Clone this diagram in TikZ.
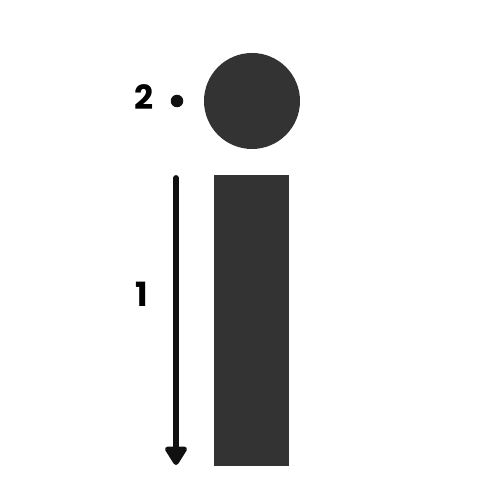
\documentclass[tikz,border=0pt]{standalone}
\usepackage{fontspec}
\setmainfont{Poppins}
\usepackage{tikz}
\usetikzlibrary{arrows.meta, positioning}
\definecolor{letterGray}{HTML}{333333}
\definecolor{arrowBlack}{HTML}{111111}

\begin{document}
\begin{tikzpicture}
        \useasboundingbox (0,0) rectangle (10,10);
        \fill[letterGray] (5.04,7.98) circle (0.96);
        \fill[letterGray] (4.28,0.68) rectangle (5.78,6.5);
        \fill[arrowBlack] (3.54,7.98) circle (0.125);
        \coordinate (stemTop) at (3.52,6.44);
        \coordinate (stemEnd) at (3.52,0.7);
        \draw[arrowBlack, line width=3.3pt, line cap=round, -{Triangle[round, width=14pt, length=12pt]}] (stemTop) -- (stemEnd);
        \node[font=\fontsize{19}{22}\selectfont\bfseries] (dotLabel) at (2.88,8.06) {2};
        \node[font=\fontsize{19}{22}\selectfont\bfseries] (stemLabel) at (2.84,4.12) {1};
      \end{tikzpicture}
\end{document}
